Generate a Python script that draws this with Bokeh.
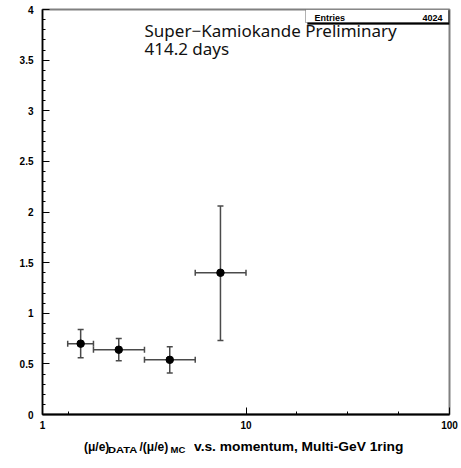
import math
from bokeh.plotting import figure
from bokeh.layouts import column
from bokeh.models import (ColumnDataSource, Whisker, TeeHead, FixedTicker, Label,
                          BoxAnnotation, Div)
from bokeh.embed import file_html
from bokeh.resources import INLINE

# ---- data ----
momentum = [1.54, 2.37, 4.22, 7.49]
bin_low = [1.33, 1.78, 3.17, 5.63]
bin_high = [1.78, 3.17, 5.63, 10.0]
ratio = [0.70, 0.64, 0.54, 1.40]
ratio_low = [0.56, 0.53, 0.41, 0.73]
ratio_high = [0.84, 0.75, 0.67, 2.06]

x_major = [1, 10, 100]
x_major_labels = ["1", "10", "100"]
x_minor = [1.34, 17.8, 31.6, 56.2]
y_major = [0, 0.5, 1, 1.5, 2, 2.5, 3, 3.5, 4]
y_major_labels = ["0", "0.5", "1", "1.5", "2", "2.5", "3", "3.5", "4"]
y_minor = [round(i * 0.1, 1) for i in range(41) if i % 5 != 0]

entries = "4024"
title1 = "Super\u2212Kamiokande Preliminary"
title2 = "414.2 days"
xtitle_parts = ["(\u03bc/e)", "DATA", "/(\u03bc/e)", "MC", "v.s. momentum, Multi-GeV 1ring"]

# ---- frame geometry ----
X0, X1 = 1, 100
Y0, Y1 = 0, 4
FW, FH = 407, 405


def xd(px):  # px from frame left -> data
    return 10 ** (math.log10(X0) + px / FW * (math.log10(X1) - math.log10(X0)))


def yd(py):  # py from frame bottom (positive up) -> data
    return Y0 + py / FH * (Y1 - Y0)


src = ColumnDataSource(dict(x=momentum, xl=bin_low, xh=bin_high,
                            y=ratio, yl=ratio_low, yh=ratio_high))

p = figure(width=458, height=432, x_axis_type="log",
           x_range=(X0, X1), y_range=(Y0, Y1),
           output_backend="svg", toolbar_location=None,
           min_border_left=42, min_border_right=9,
           min_border_top=9, min_border_bottom=18)
p.grid.visible = False
p.background_fill_color = "white"
p.border_fill_color = "white"
p.outline_line_color = "#808080"
p.outline_line_width = 2

for ax in (p.xaxis[0], p.yaxis[0]):
    ax.axis_line_color = "black"
    ax.axis_line_width = 1.5
    ax.major_tick_in = 7
    ax.major_tick_out = 0
    ax.minor_tick_in = 3
    ax.minor_tick_out = 0
    ax.major_tick_line_color = "black"
    ax.minor_tick_line_color = "black"
    ax.major_label_text_font = "Liberation Sans"
    ax.major_label_text_font_style = "bold"
    ax.major_label_text_font_size = "10px"
    ax.major_label_text_color = "black"

p.xaxis.axis_line_width = 2
p.xaxis.ticker = FixedTicker(ticks=x_major, minor_ticks=x_minor)
p.xaxis.major_label_overrides = dict(zip(x_major, x_major_labels))
p.xaxis.major_label_standoff = 6
p.yaxis.ticker = FixedTicker(ticks=y_major, minor_ticks=y_minor)
p.yaxis.major_label_overrides = dict(zip(y_major, y_major_labels))
p.yaxis.major_label_standoff = 9

bar_col = "#4a4a4a"
p.add_layout(Whisker(source=src, base="y", lower="xl", upper="xh", dimension="width",
                     line_color=bar_col, line_width=1.5,
                     lower_head=TeeHead(size=6, line_color=bar_col, line_width=1.5),
                     upper_head=TeeHead(size=6, line_color=bar_col, line_width=1.5)))
p.add_layout(Whisker(source=src, base="x", lower="yl", upper="yh", dimension="height",
                     line_color=bar_col, line_width=1.5,
                     lower_head=TeeHead(size=6, line_color=bar_col, line_width=1.5),
                     upper_head=TeeHead(size=6, line_color=bar_col, line_width=1.5)))
p.scatter("x", "y", source=src, size=7.5, color="black")

# stats box (with shadow)
p.add_layout(BoxAnnotation(left=xd(265), right=xd(407), top=yd(404), bottom=yd(404 - 14),
                           fill_color="black", fill_alpha=1, line_color="black", line_width=1,
                           level="overlay"))
p.add_layout(BoxAnnotation(left=xd(263), right=xd(406), top=yd(405), bottom=yd(405 - 13),
                           fill_color="white", fill_alpha=1, line_color="black", line_width=1,
                           level="overlay"))

# title texts
p.add_layout(Label(x=xd(102), y=yd(405 - 20.5), text=title1, text_font="Noto Sans",
                   text_font_size="17px", text_color="#111111", text_baseline="alphabetic",
                   level="overlay"))
p.add_layout(Label(x=xd(102), y=yd(405 - 38.5), text=title2, text_font="Noto Sans",
                   text_font_size="17px", text_color="#111111", text_baseline="alphabetic",
                   level="overlay"))
p.add_layout(Label(x=xd(272), y=yd(405 - 8.5), text="Entries", text_font="Liberation Sans",
                   text_font_style="bold", text_font_size="9px", text_color="black",
                   text_baseline="alphabetic", level="overlay"))
p.add_layout(Label(x=xd(400), y=yd(405 - 8.5), text=entries, text_font="Liberation Sans",
                   text_font_style="bold", text_font_size="9px", text_color="black",
                   text_align="right", text_baseline="alphabetic", level="overlay"))

# x-axis title (with subscripts) as real HTML text under the frame
# (left px, top px within the strip, font px, horizontal stretch)
place = [(84, 9.0, 12, 1.0), (108, 12.5, 9.5, 1.17), (139.5, 9.0, 12, 1.0),
         (170.5, 12.5, 9.5, 1.0), (194, 9.0, 12, 1.147)]
spans = []
for (lx, ty, fs, sx), txt in zip(place, xtitle_parts):
    spans.append(
        '<span style="position:absolute;left:{}px;top:{}px;font-size:{}px;line-height:{}px;'
        'white-space:nowrap;transform:scaleX({});transform-origin:0 0;">{}</span>'
        .format(lx, ty, fs, fs, sx, txt))
html = ('<div style="position:relative;width:458px;height:26px;'
        'font-family:\'Liberation Sans\',Arial,sans-serif;font-weight:bold;color:black;">'
        + "".join(spans) + '</div>')
xtitle = Div(text=html, width=458, height=26, margin=(0, 0, 0, 0))

layout = column(p, xtitle, spacing=0)
open("out.html", "w").write(file_html(layout, INLINE))
